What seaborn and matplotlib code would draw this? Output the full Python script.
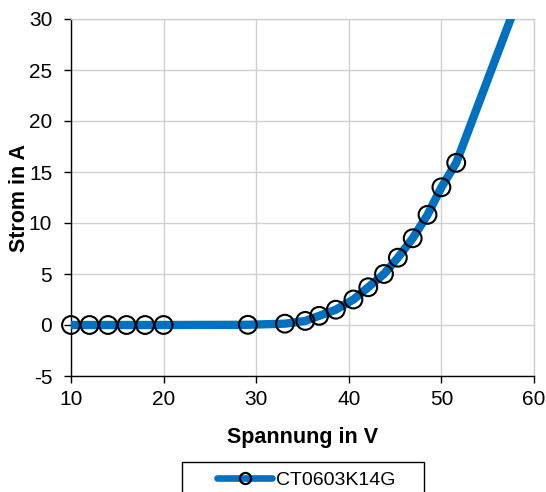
import numpy as np
import pandas as pd
import matplotlib
matplotlib.use("Agg")
import matplotlib.pyplot as plt
from matplotlib.lines import Line2D
from matplotlib.patches import Rectangle
import seaborn as sns

## Daten
spannung = [10, 12, 14, 16, 18, 20, 29.1, 33.1, 35.3, 36.8, 38.6, 40.5,
            42.1, 43.8, 45.3, 46.9, 48.5, 50.0, 51.6]
strom = [0, 0, 0, 0, 0, 0, 0.02, 0.13, 0.4, 0.9, 1.5, 2.5,
         3.7, 5.0, 6.6, 8.5, 10.8, 13.5, 15.9]
# Verlängerung der Kennlinie über den letzten Messpunkt hinaus
spannung_ext = [57.6]
strom_ext = [30.3]
serie = "CT0603K14G"

messung = pd.DataFrame({"U": spannung, "I": strom})
kurve = pd.DataFrame({"U": spannung + spannung_ext, "I": strom + strom_ext})

## Stil
sns.set_style("white")
plt.rcParams["font.family"] = ["Liberation Sans", "DejaVu Sans"]
plt.rcParams["axes.unicode_minus"] = False
plt.rcParams["text.color"] = "black"
plt.rcParams["axes.labelcolor"] = "black"

blau = "#0070C0"
W, H = 546, 492

fig = plt.figure(figsize=(W / 100, H / 100), dpi=100)
ax = fig.add_axes([71 / W, 1 - 376 / H, (534 - 71) / W, (376 - 19) / H])

sns.lineplot(data=kurve, x="U", y="I", color=blau, linewidth=6,
             ax=ax, zorder=3, solid_capstyle="butt")
sns.scatterplot(data=messung, x="U", y="I", ax=ax, s=12.8 ** 2,
                facecolor="none", edgecolor="black", linewidth=1.5,
                zorder=4, clip_on=False)

ax.set_xlim(10, 60)
ax.set_ylim(-5, 30)
ax.set_xticks(np.arange(10, 61, 10))
ax.set_yticks(np.arange(-5, 31, 5))
ax.grid(True, color="#D0D0D0", linewidth=1.0)
ax.set_axisbelow(True)

for s in ["top", "right"]:
    ax.spines[s].set_color("#D0D0D0")
    ax.spines[s].set_linewidth(1.0)
for s in ["left", "bottom"]:
    ax.spines[s].set_color("black")
    ax.spines[s].set_linewidth(1.0)

ax.tick_params(axis="both", direction="out", length=5, width=1,
               color="black", labelsize=15, labelcolor="black",
               left=True, bottom=True, pad=5)
ax.tick_params(axis="y", pad=8.5)

ax.set_xlabel("Spannung in V", fontsize=15.5, fontweight="bold", labelpad=13)
ax.set_ylabel("Strom in A", fontsize=15.5, fontweight="bold")
ax.yaxis.set_label_coords(-0.089, 0.5)

# Legende unten, Rahmen ragt über den Bildrand hinaus
handle = Line2D([], [], color=blau, linewidth=4.8, marker="o", markersize=8,
                markerfacecolor="none", markeredgecolor="black",
                markeredgewidth=1.6)
fig.legend([handle], [serie], loc="center left",
           bbox_to_anchor=(217 / W, 1 - 480 / H),
           fontsize=14, frameon=False, borderpad=0, borderaxespad=0,
           handlelength=2.83, handletextpad=0.2)
fig.patches.append(Rectangle((181.7 / W, -0.05), (424 - 181.7) / W,
                             0.05 + 1 - 461.7 / H, transform=fig.transFigure,
                             fill=False, edgecolor="black", linewidth=1.0))

fig.savefig("out.png", dpi=100)
